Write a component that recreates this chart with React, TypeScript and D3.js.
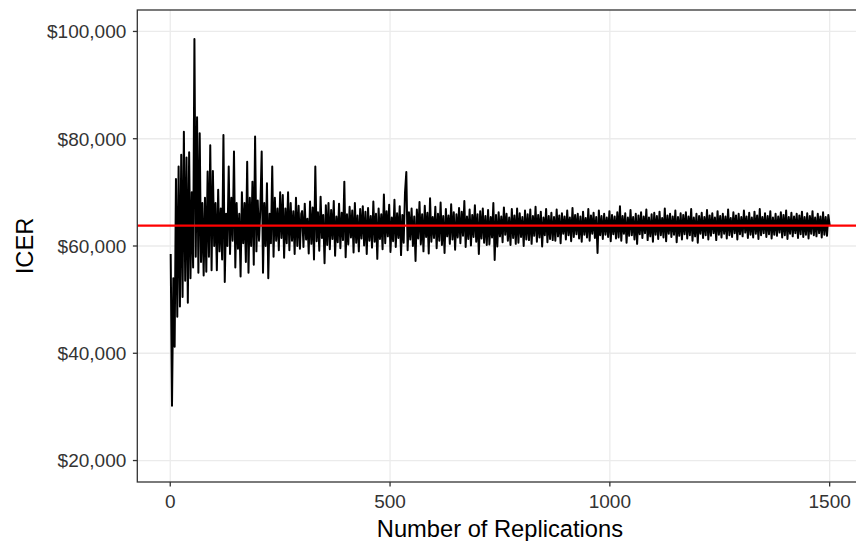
import React from "react";
import * as d3 from "d3";

// ICER (in $ thousands) for replications 1..298, every 3rd replication
const icerEarly: number[] = [
  58.5, 30.2, 54.0, 41.2, 72.5, 46.8, 74.8, 48.7, 77.0, 50.5,
  81.3, 53.5, 76.5, 49.4, 77.5, 54.0, 70.0, 56.0, 98.6, 58.0,
  84.0, 55.0, 81.0, 57.0, 68.0, 54.5, 69.0, 55.2, 73.9, 58.0,
  78.8, 55.5, 74.0, 60.0, 68.0, 55.5, 70.5, 59.0, 67.0, 57.5,
  80.7, 53.3, 66.0, 60.0, 74.8, 58.5, 69.0, 61.0, 77.6, 56.0,
  68.0, 59.5, 66.0, 54.3, 70.0, 60.5, 68.0, 57.0, 75.7, 55.0,
  69.0, 60.0, 72.0, 56.5, 80.4, 59.0, 68.5, 61.0, 67.0, 77.6,
  55.0, 68.0, 60.0, 71.7, 54.0, 66.0, 60.5, 74.8, 58.0, 69.0,
  61.0, 67.0, 59.2, 70.0, 61.5, 69.5, 57.8, 67.0, 60.5, 70.0,
  59.2, 68.0, 61.0, 66.5, 58.5, 69.0, 60.0, 67.5, 59.5, 66.0,
];

// ICER (in $ thousands) for replications 300..1500, every 3rd replication
const icerLate: number[] = [
  66.5, 59.8, 67.9, 61.2, 65.1, 58.6, 68.3, 60.4, 67.2, 57.5,
  74.8, 60.9, 66.3, 59.1, 69.2, 61.5, 65.8, 56.8, 67.6, 60.2,
  68.0, 59.4, 66.7, 61.3, 68.4, 58.2, 65.5, 60.7, 67.9, 59.6,
  66.2, 61.1, 72.0, 57.9, 65.9, 60.3, 67.3, 61.6, 66.6, 58.8,
  68.0, 60.6, 65.7, 59.0, 66.9, 61.4, 67.4, 60.1, 66.4, 58.5,
  67.1, 61.0, 65.6, 59.7, 68.3, 60.8, 66.0, 57.6, 67.0, 61.3,
  65.9, 59.4, 69.6, 60.5, 66.5, 61.8, 67.7, 58.9, 65.3, 60.9,
  68.6, 59.8, 66.1, 61.5, 67.4, 58.3, 65.8, 60.6, 69.9, 73.8,
  59.2, 66.3, 61.2, 67.0, 60.0, 65.5, 57.2, 66.8, 61.4, 68.2,
  60.3, 65.9, 59.0, 67.5, 61.7, 66.2, 58.6, 68.9, 60.8, 65.4,
  61.5, 67.3, 59.6, 66.0, 61.0, 68.1, 60.2, 65.6, 58.7, 66.9,
  61.8, 65.7, 60.4, 67.8, 61.2, 66.3, 59.3, 65.9, 61.6, 67.1,
  60.5, 66.4, 61.9, 68.4, 59.8, 65.5, 61.3, 66.8, 60.1, 65.8,
  61.7, 67.6, 60.8, 65.9, 58.5, 66.5, 61.4, 67.0, 60.6, 65.6,
  60.2, 66.7, 60.3, 65.4, 61.6, 68.0, 57.4, 65.8, 59.9, 66.3,
  61.8, 65.5, 60.7, 67.2, 62.1, 66.0, 61.0, 65.3, 60.2, 66.9,
  61.5, 65.7, 60.4, 67.0, 60.6, 66.1, 61.7, 65.4, 60.0, 66.6,
  61.2, 65.9, 61.1, 66.8, 60.4, 65.6, 61.9, 67.3, 60.8, 65.8,
  61.6, 66.4, 59.9, 65.3, 62.0, 66.9, 60.7, 65.6, 61.3, 66.2,
  61.1, 65.4, 61.0, 66.8, 61.8, 65.7, 60.5, 66.1, 62.3, 65.5,
  61.2, 66.6, 62.0, 65.3, 60.9, 67.1, 61.7, 65.8, 62.2, 66.0,
  61.4, 65.5, 60.8, 66.4, 62.1, 65.2, 61.6, 66.9, 61.0, 65.7,
  62.3, 66.2, 61.5, 65.4, 58.7, 66.6, 62.0, 65.6, 61.3, 66.0,
  62.1, 65.3, 61.7, 66.5, 60.9, 65.8, 62.2, 65.5, 61.4, 66.3,
  61.6, 67.4, 61.0, 65.6, 62.3, 66.1, 60.6, 65.3, 61.9, 66.7,
  62.0, 65.4, 61.2, 66.0, 60.4, 65.7, 62.2, 66.3, 61.5, 65.5,
  62.4, 66.8, 61.1, 65.3, 61.8, 65.9, 60.8, 66.2, 62.1, 65.6,
  61.3, 66.4, 62.0, 65.2, 61.6, 67.0, 60.9, 65.7, 62.3, 66.0,
  61.7, 65.5, 62.1, 66.6, 60.7, 65.4, 61.9, 66.1, 61.2, 65.8,
  62.2, 66.3, 61.4, 65.5, 62.0, 66.9, 61.0, 65.3, 61.8, 66.0,
  60.6, 65.6, 62.3, 66.2, 61.5, 65.4, 62.0, 66.7, 61.2, 65.7,
  61.9, 66.1, 62.4, 65.3, 61.1, 66.5, 62.1, 65.6, 61.6, 66.0,
  62.3, 65.5, 61.4, 66.8, 62.0, 65.2, 61.7, 66.3, 62.4, 65.7,
  61.2, 66.0, 62.2, 65.4, 61.8, 66.6, 62.5, 65.5, 61.5, 66.2,
  62.1, 65.3, 61.6, 66.4, 62.3, 65.7, 61.3, 66.9, 62.0, 65.4,
  62.4, 66.1, 61.7, 65.6, 62.2, 66.5, 61.4, 65.3, 62.1, 66.0,
  61.9, 65.5, 62.5, 66.3, 61.6, 65.8, 62.0, 66.6, 61.3, 65.4,
  62.3, 66.2, 61.8, 65.5, 62.4, 66.0, 61.5, 65.7, 62.2, 66.4,
  61.7, 65.4, 62.1, 66.1, 61.4, 65.6, 62.3, 66.5, 62.0, 65.3,
  61.8, 66.0, 62.4, 65.5, 61.6, 66.3, 62.1, 65.4, 61.9, 65.8,
  63.9,
];

const replicationsEarly = d3.range(1, 300, 3);
const replicationsLate = d3.range(300, 1501, 3);

const meanIcer = 63.8;

const xTicks = [0, 500, 1000, 1500];
const yTicks = [20, 40, 60, 80, 100];

const W = 856;
const H = 541;
const panel = { left: 137.3, top: 10, right: 862.6, bottom: 482 };

export default function App() {
  const x = d3.scaleLinear().domain([-74.95, 1574.95]).range([panel.left, panel.right]);
  const y = d3.scaleLinear().domain([16, 104]).range([panel.bottom, panel.top]);

  const points: [number, number][] = [
    ...replicationsEarly.map((r, i) => [r, icerEarly[i]] as [number, number]),
    ...replicationsLate.map((r, i) => [r, icerLate[i]] as [number, number]),
  ].filter((p) => p[1] !== undefined);

  const line = d3
    .line<[number, number]>()
    .x((d) => x(d[0]))
    .y((d) => y(d[1]));

  const fmt = (v: number) => "$" + d3.format(",")(v * 1000);
  const font = "'Liberation Sans', Arial, sans-serif";

  return (
    <svg
      width={W}
      height={H}
      style={{ position: "absolute", left: 0, top: 0, background: "#fff" }}
    >
      <defs>
        <clipPath id="panel-clip">
          <rect
            x={panel.left}
            y={panel.top}
            width={panel.right - panel.left}
            height={panel.bottom - panel.top}
          />
        </clipPath>
      </defs>
      <rect x={0} y={0} width={W} height={H} fill="#fff" />
      {/* grid */}
      <g stroke="#EBEBEB" strokeWidth={1.3}>
        {yTicks.map((t) => (
          <line key={"gy" + t} x1={panel.left} x2={panel.right} y1={y(t)} y2={y(t)} />
        ))}
        {xTicks.map((t) => (
          <line key={"gx" + t} x1={x(t)} x2={x(t)} y1={panel.top} y2={panel.bottom} />
        ))}
      </g>
      <g clipPath="url(#panel-clip)">
        <path
          d={line(points) || ""}
          fill="none"
          stroke="#000"
          strokeWidth={2}
          strokeLinejoin="round"
        />
        <line
          x1={panel.left}
          x2={panel.right}
          y1={y(meanIcer)}
          y2={y(meanIcer)}
          stroke="#FF0000"
          strokeWidth={2.2}
        />
      </g>
      {/* panel border */}
      <rect
        x={panel.left}
        y={panel.top}
        width={panel.right - panel.left}
        height={panel.bottom - panel.top}
        fill="none"
        stroke="#333"
        strokeWidth={1.3}
      />
      {/* y axis */}
      <g>
        {yTicks.map((t) => (
          <g key={"ty" + t}>
            <line x1={panel.left - 4.4} x2={panel.left} y1={y(t)} y2={y(t)} stroke="#333" strokeWidth={1.3} />
            <text
              x={panel.left - 11}
              y={y(t)}
              dy="0.36em"
              textAnchor="end"
              fontFamily={font}
              fontSize={19}
              fill="#333"
            >
              {fmt(t)}
            </text>
          </g>
        ))}
      </g>
      {/* x axis */}
      <g>
        {xTicks.map((t) => (
          <g key={"tx" + t}>
            <line x1={x(t)} x2={x(t)} y1={panel.bottom} y2={panel.bottom + 4.4} stroke="#333" strokeWidth={1.3} />
            <text
              x={x(t)}
              y={508}
              textAnchor="middle"
              fontFamily={font}
              fontSize={19}
              fill="#333"
            >
              {t}
            </text>
          </g>
        ))}
      </g>
      <text
        x={(panel.left + panel.right) / 2}
        y={537}
        textAnchor="middle"
        fontFamily={font}
        fontSize={23.7}
        fill="#000"
      >
        Number of Replications
      </text>
      <text
        transform={`translate(33, ${(panel.top + panel.bottom) / 2}) rotate(-90)`}
        textAnchor="middle"
        fontFamily={font}
        fontSize={23.7}
        fill="#000"
      >
        ICER
      </text>
    </svg>
  );
}
